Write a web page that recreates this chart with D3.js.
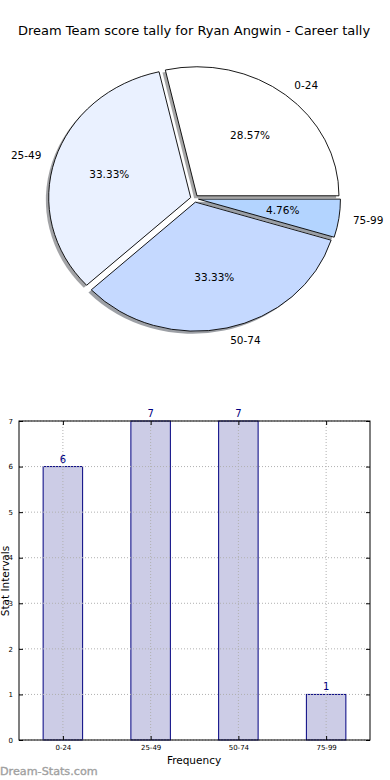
<!DOCTYPE html>
<html>
<head>
<meta charset="utf-8">
<script src="https://cdn.jsdelivr.net/npm/d3@7"></script>
<style>
  html, body { margin: 0; padding: 0; background: #fff; }
  svg { display: block; font-family: "DejaVu Sans", sans-serif; }
</style>
</head>
<body>
<svg id="chart" width="390" height="780"></svg>
<script>
// ---- data ----
const title = "Dream Team score tally for Ryan Angwin - Career tally";
const categories = ["0-24", "25-49", "50-74", "75-99"];
const counts = [6, 7, 7, 1];
const sliceColors = ["#ffffff", "#eaf1ff", "#c5d9ff", "#b3d4ff"];
const yTicks = [0, 1, 2, 3, 4, 5, 6, 7];
const xLabel = "Frequency";
const yLabel = "Stat Intervals";
const watermark = "Dream-Stats.com";

(function () {
const svg = d3.select("#chart");

// ---- title ----
svg.append("text")
  .attr("x", 194).attr("y", 35)
  .attr("text-anchor", "middle")
  .attr("font-size", 13).attr("fill", "#000")
  .text(title);

// ---- pie ----
const cx = 194.5, cy = 198.6, rx = 142, ry = 129;
const explode = 0.028, labelDist = 1.1, pctDist = 0.6;
const total = d3.sum(counts);
const pie = d3.pie().sort(null).value(d => d)
  .startAngle(Math.PI / 2).endAngle(Math.PI / 2 - 2 * Math.PI);
const arcs = pie(counts);
const arc = d3.arc().innerRadius(0).outerRadius(1);

const pieG = svg.append("g");
function darker(c) {
  const col = d3.rgb(c);
  return d3.rgb(col.r * 0.3, col.g * 0.3, col.b * 0.3).toString();
}
// shadows
arcs.forEach((a, i) => {
  const mid = (a.startAngle + a.endAngle) / 2;
  const ox = cx + explode * rx * Math.sin(mid) - 0.02 * rx;
  const oy = cy - explode * ry * Math.cos(mid) + 0.02 * ry;
  pieG.append("path")
    .attr("d", arc(a))
    .attr("transform", `translate(${ox},${oy}) scale(${rx},${ry})`)
    .attr("fill", darker(sliceColors[i]))
    .attr("fill-opacity", 0.5)
    .attr("stroke", "none");
});
// slices
arcs.forEach((a, i) => {
  const mid = (a.startAngle + a.endAngle) / 2;
  const ox = cx + explode * rx * Math.sin(mid);
  const oy = cy - explode * ry * Math.cos(mid);
  pieG.append("path")
    .attr("d", arc(a))
    .attr("transform", `translate(${ox},${oy}) scale(${rx},${ry})`)
    .attr("fill", sliceColors[i])
    .attr("stroke", "#000")
    .attr("stroke-width", 0.9)
    .attr("vector-effect", "non-scaling-stroke");
});
// labels
arcs.forEach((a, i) => {
  const mid = (a.startAngle + a.endAngle) / 2;
  const sx = Math.sin(mid), sy = -Math.cos(mid);
  const lx = cx + (explode + labelDist) * rx * sx;
  const ly = cy + (explode + labelDist) * ry * sy;
  pieG.append("text")
    .attr("x", lx).attr("y", ly)
    .attr("dy", "0.35em")
    .attr("text-anchor", sx > 0 ? "start" : "end")
    .attr("font-size", 10.5).attr("fill", "#000")
    .text(categories[i]);
  const px = cx + (explode + pctDist) * rx * sx;
  const py = cy + (explode + pctDist) * ry * sy;
  pieG.append("text")
    .attr("x", px).attr("y", py)
    .attr("dy", "0.35em")
    .attr("text-anchor", "middle")
    .attr("font-size", 10.5).attr("fill", "#000")
    .text((a.data / total * 100).toFixed(2) + "%");
});

// ---- bar chart ----
const pL = 19, pR = 370, pT = 421, pB = 740;
const x = d3.scaleLinear().domain([-0.5, categories.length - 0.5]).range([pL, pR]);
const y = d3.scaleLinear().domain([0, 7]).range([pB, pT]);
const barW = 0.45;
const barG = svg.append("g");

// bars
barG.selectAll("rect.bar").data(counts).enter().append("rect")
  .attr("x", (d, i) => x(i - barW / 2))
  .attr("y", d => y(d))
  .attr("width", x(barW) - x(0))
  .attr("height", d => y(0) - y(d))
  .attr("fill", "#ccccE6")
  .attr("stroke", "#000080")
  .attr("stroke-width", 1);

// grid
barG.selectAll("line.vgrid").data(categories).enter().append("line")
  .attr("x1", (d, i) => x(i)).attr("x2", (d, i) => x(i))
  .attr("y1", pT).attr("y2", pB)
  .attr("stroke", "#b0b0b0").attr("stroke-width", 1)
  .attr("stroke-dasharray", "1,2");
barG.selectAll("line.hgrid").data(yTicks).enter().append("line")
  .attr("x1", pL).attr("x2", pR)
  .attr("y1", d => y(d)).attr("y2", d => y(d))
  .attr("stroke", "#b0b0b0").attr("stroke-width", 1)
  .attr("stroke-dasharray", "1,2");

// value labels
barG.selectAll("text.val").data(counts).enter().append("text")
  .attr("x", (d, i) => x(i))
  .attr("y", d => y(d) - 4)
  .attr("text-anchor", "middle")
  .attr("font-size", 10).attr("fill", "#000080")
  .text(d => d);

// frame
barG.append("rect")
  .attr("x", pL).attr("y", pT)
  .attr("width", pR - pL).attr("height", pB - pT)
  .attr("fill", "none").attr("stroke", "#000").attr("stroke-width", 1);

// axes
const yAxis = d3.axisLeft(y).tickValues(yTicks).tickSize(-4).tickPadding(6).tickFormat(d3.format("d"));
const yAxisG = barG.append("g").attr("transform", `translate(${pL},0)`).call(yAxis);
yAxisG.select(".domain").remove();
yAxisG.selectAll("text").attr("font-size", 7).attr("font-family", "DejaVu Sans");

const yAxisR = d3.axisRight(y).tickValues(yTicks).tickSize(-4).tickFormat("");
const yAxisRG = barG.append("g").attr("transform", `translate(${pR},0)`).call(yAxisR);
yAxisRG.select(".domain").remove();

const xAxis = d3.axisBottom(x).tickValues(d3.range(categories.length)).tickSize(-4).tickPadding(5)
  .tickFormat(i => categories[i]);
const xAxisG = barG.append("g").attr("transform", `translate(0,${pB})`).call(xAxis);
xAxisG.select(".domain").remove();
xAxisG.selectAll("text").attr("font-size", 7).attr("font-family", "DejaVu Sans");

const xAxisT = d3.axisTop(x).tickValues(d3.range(categories.length)).tickSize(-4).tickFormat("");
const xAxisTG = barG.append("g").attr("transform", `translate(0,${pT})`).call(xAxisT);
xAxisTG.select(".domain").remove();

// axis labels
svg.append("text")
  .attr("x", 194).attr("y", 764)
  .attr("text-anchor", "middle")
  .attr("font-size", 10.5).attr("fill", "#000")
  .text(xLabel);
svg.append("text")
  .attr("transform", "translate(9,581) rotate(-90)")
  .attr("text-anchor", "middle")
  .attr("font-size", 10.5).attr("fill", "#000")
  .text(yLabel);

// watermark
svg.append("text")
  .attr("x", 0).attr("y", 775)
  .attr("font-size", 11.2)
  .attr("fill", "#a0a0a0")
  .attr("stroke", "#a0a0a0").attr("stroke-width", 0.35)
  .text(watermark);
})();
</script>
</body>
</html>
